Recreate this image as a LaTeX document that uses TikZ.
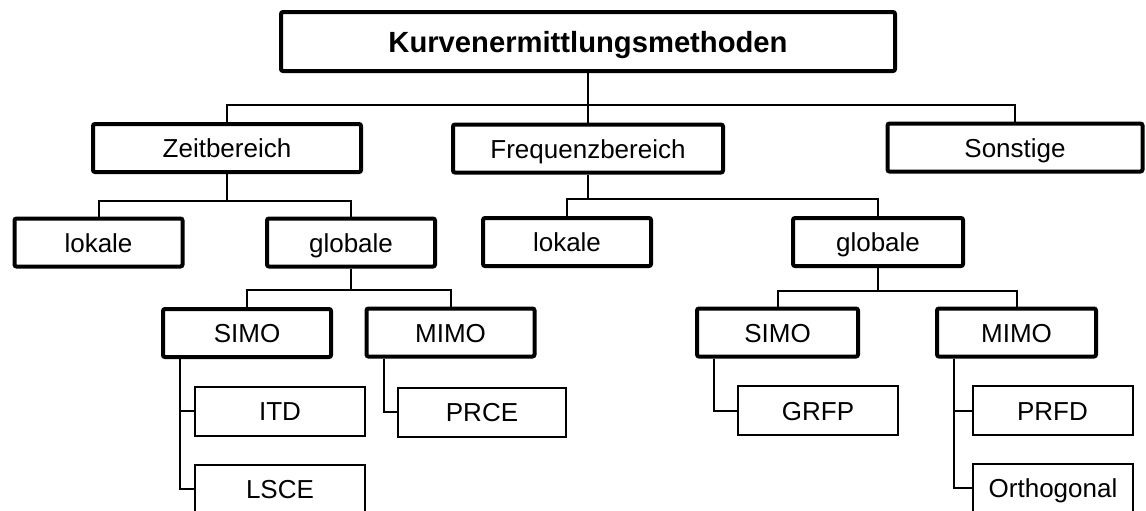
\documentclass[tikz,border=0pt]{standalone}
\usepackage{fontspec}
\setmainfont{Liberation Sans}
\usetikzlibrary{positioning}
\tikzset{
  every picture/.style={x=0.5pt,y=-0.5pt},
  box/.style={draw, line width=2pt, rounded corners=1pt, fill=white, inner sep=0pt,
    minimum width=84pt, minimum height=24pt,
    font=\fontsize{13pt}{15pt}\selectfont, text height=9.5pt, text depth=0pt},
  leaf/.style={box, line width=1pt, rounded corners=0pt, minimum height=24.5pt},
  link/.style={line width=1pt},
}

\begin{document}
\begin{tikzpicture}
  \useasboundingbox (0,0) rectangle (1146,510);
  \clip (0,0) rectangle (1146,510);

  \node[box, minimum width=307pt, minimum height=29.5pt, text height=10.5pt,
        font=\fontsize{14.6pt}{17pt}\selectfont\bfseries] (kurven) at (588,41.5) {Kurvenermittlungsmethoden};

  \node[box, minimum width=134pt] (zeit) at (227,148) {Zeitbereich};
  \node[box, minimum width=135pt] (freq) at (588,148.5) {Frequenzbereich};
  \node[box, minimum width=127.5pt] (sonst) at (1015,147.5) {Sonstige};

  \node[box] (lokaleA) at (98.5,242.5) {lokale};
  \node[box] (globaleA) at (351,242.5) {globale};
  \node[box] (lokaleB) at (567,242) {lokale};
  \node[box, minimum width=85pt] (globaleB) at (878,242) {globale};

  \node[box] (simoA) at (247,333) {SIMO};
  \node[box] (mimoA) at (450.5,332.5) {MIMO};
  \node[box, minimum width=80.5pt] (simoB) at (777.5,332.5) {SIMO};
  \node[box, minimum width=79.5pt] (mimoB) at (1016.5,332.5) {MIMO};

  \node[leaf, minimum width=85pt] (itd) at (280,411) {ITD};
  \node[leaf, minimum width=85pt] (lsce) at (280,489) {LSCE};
  \node[leaf] (prce) at (482,412) {PRCE};
  \node[leaf, minimum width=80pt] (grfp) at (818,410.5) {GRFP};
  \node[leaf, minimum width=80pt] (prfd) at (1052.5,410.5) {PRFD};
  \node[leaf, minimum width=80pt] (ortho) at (1053,488) {Orthogonal};

  % busses
  \coordinate (busA) at (588,105);
  \coordinate (busB) at (227,201);
  \coordinate (busC) at (588,199);
  \coordinate (busD) at (351,290);
  \coordinate (busE) at (878,291);

  \draw[link] (kurven.south) -- (freq.north);
  \draw[link] (zeit.north) |- (busA) -| (sonst.north);

  \draw[link] (zeit.south) -- (busB);
  \draw[link] (lokaleA.north) |- (busB) -| (globaleA.north);
  \draw[link] (freq.south) -- (busC);
  \draw[link] (lokaleB.north) |- (busC) -| (globaleB.north);

  \draw[link] (globaleA.south) -- (busD);
  \draw[link] (simoA.north) |- (busD) -| (mimoA.north);
  \draw[link] (globaleB.south) -- (busE);
  \draw[link] (simoB.north) |- (busE) -| (mimoB.north);

  \foreach \a/\b in {simoA/itd, simoA/lsce, mimoA/prce, simoB/grfp, mimoB/prfd, mimoB/ortho} {
    \draw[link] ([xshift=9.5pt]\a.south west) |- (\b.west);
  }
\end{tikzpicture}
\end{document}
